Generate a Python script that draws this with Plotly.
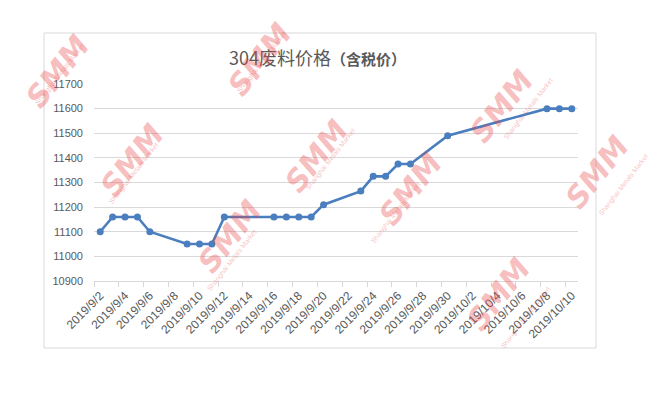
import plotly.graph_objects as go

W, H = 667, 393
L, R, T, B = 94, 89, 84, 112

dates = ["2019-09-02", "2019-09-03", "2019-09-04", "2019-09-05", "2019-09-06",
         "2019-09-09", "2019-09-10", "2019-09-11", "2019-09-12",
         "2019-09-16", "2019-09-17", "2019-09-18", "2019-09-19", "2019-09-20",
         "2019-09-23", "2019-09-24", "2019-09-25", "2019-09-26", "2019-09-27",
         "2019-09-30", "2019-10-08", "2019-10-09", "2019-10-10"]
prices = [11100, 11160, 11160, 11160, 11100,
          11050, 11050, 11050, 11160,
          11160, 11160, 11160, 11160, 11210,
          11265, 11325, 11325, 11375, 11375,
          11490, 11600, 11600, 11600]

tick_dates = ["2019-09-02", "2019-09-04", "2019-09-06", "2019-09-08", "2019-09-10",
              "2019-09-12", "2019-09-14", "2019-09-16", "2019-09-18", "2019-09-20",
              "2019-09-22", "2019-09-24", "2019-09-26", "2019-09-28", "2019-09-30",
              "2019-10-02", "2019-10-04", "2019-10-06", "2019-10-08", "2019-10-10"]
tick_labels = ["2019/9/2", "2019/9/4", "2019/9/6", "2019/9/8", "2019/9/10",
               "2019/9/12", "2019/9/14", "2019/9/16", "2019/9/18", "2019/9/20",
               "2019/9/22", "2019/9/24", "2019/9/26", "2019/9/28", "2019/9/30",
               "2019/10/2", "2019/10/4", "2019/10/6", "2019/10/8", "2019/10/10"]
y_ticks = [10900, 11000, 11100, 11200, 11300, 11400, 11500, 11600, 11700]
y_labels = ["10900", "11000", "11100", "11200", "11300", "11400", "11500", "11600", "11700"]

title_text = "304废料价格<span style='font-size:15px'><b>（含税价）</b></span>"

pw, ph = W - L - R, H - T - B


def px2paper(x, y):
    return (x - L) / pw, (H - B - y) / ph


fig = go.Figure()
fig.add_trace(go.Scatter(
    x=dates, y=prices, mode="lines+markers",
    line=dict(color="#4A7EBE", width=2.6),
    marker=dict(color="#4A7EBE", size=7),
    showlegend=False, hoverinfo="x+y"))

# chart border
x0, y0 = px2paper(44, 348)
x1, y1 = px2paper(596, 33)
shapes = [dict(type="rect", xref="paper", yref="paper", x0=x0, y0=y0, x1=x1, y1=y1,
               line=dict(color="#D9D9D9", width=1), fillcolor="rgba(0,0,0,0)", layer="below")]

annotations = []
tx, ty = px2paper(317, 57)
annotations.append(dict(text=title_text, xref="paper", yref="paper", x=tx, y=ty,
                        showarrow=False, xanchor="center", yanchor="middle",
                        font=dict(family="Noto Sans CJK SC", size=18, color="#595959")))

# SMM watermarks
wm_centers = [(543, 61), (316, 111), (90, 160), (410, 235), (188, 282),
              (638, 172), (540, 340), (218, 14), (16, 26)]
for cx, cy in wm_centers:
    ax_, ay_ = px2paper(cx, cy)
    annotations.append(dict(text="<b><i>SMM</i></b>", xref="paper", yref="paper", x=ax_, y=ay_,
                            showarrow=False, textangle=-52,
                            font=dict(family="DejaVu Sans", size=30, color="rgba(232,70,70,0.36)")))
    sx, sy = px2paper(cx + 15, cy + 13)
    annotations.append(dict(text="Shanghai Metals Market", xref="paper", yref="paper", x=sx, y=sy,
                            showarrow=False, textangle=-52,
                            font=dict(family="Liberation Sans", size=7, color="rgba(232,70,70,0.36)")))

fig.update_layout(
    width=W, height=H,
    margin=dict(l=L, r=R, t=T, b=B, pad=0),
    paper_bgcolor="white", plot_bgcolor="white",
    shapes=shapes, annotations=annotations,
    font=dict(family="Liberation Sans", size=11, color="#595959"),
    xaxis=dict(
        type="date",
        range=["2019-09-01 12:00", "2019-10-10 12:00"],
        tickmode="array", tickvals=tick_dates, ticktext=tick_labels,
        tickangle=-45, ticks="", showgrid=False, zeroline=False,
        showline=True, linecolor="#D9D9D9", linewidth=1,
        ticklabelstandoff=2,
        tickfont=dict(family="Liberation Sans", size=12, color="#595959"),
        minor=dict(ticks="outside", ticklen=5, tickcolor="#D9D9D9", tickwidth=1,
                   tick0="2019-09-01 12:00", dtick=2 * 86400000, showgrid=False),
    ),
    yaxis=dict(
        range=[10900, 11700], tickmode="array", tickvals=y_ticks, ticktext=y_labels,
        showgrid=True, gridcolor="#D9D9D9", gridwidth=1, zeroline=False,
        showline=False, ticks="", ticklabelstandoff=10,
        tickfont=dict(family="Liberation Sans", size=11, color="#595959"),
    ),
)

fig.write_html("out.html")
